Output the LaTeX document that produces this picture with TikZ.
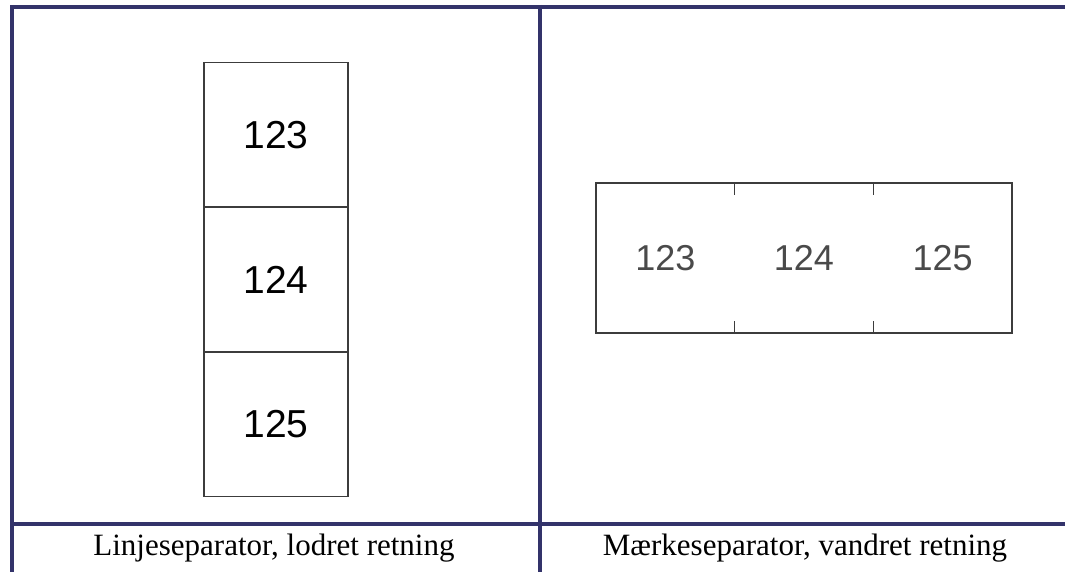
\documentclass[tikz,border=0pt]{standalone}
\usepackage{fontspec}
\setmainfont{Liberation Serif}
\newfontfamily\numfont{Liberation Sans}
\usetikzlibrary{positioning}
\definecolor{frm}{HTML}{33336A}
\definecolor{edg}{HTML}{3C3C3C}
\definecolor{dig}{HTML}{4A4A4A}
\tikzset{
  rule/.style={draw=frm, line width=4pt},
  vcell/.style={draw=edg, line width=1.5pt, minimum width=144pt, minimum height=144.5pt, inner sep=0pt, outer sep=0pt, font=\numfont\fontsize{39}{39}\selectfont},
  hcell/.style={minimum width=138.67pt, minimum height=150pt, inner sep=0pt, outer sep=0pt, text=dig, font=\numfont\fontsize{36}{36}\selectfont},
  tickmark/.style={draw=edg, line width=1.5pt},
  captxt/.style={anchor=base, font=\fontsize{31}{31}\selectfont}}
\begin{document}
\begin{tikzpicture}[x=1pt, y=-1pt, node distance=0pt]
\useasboundingbox (0,0) rectangle (1065,572);
% table rules
\draw[rule] (10,7) -- (1065,7);
\draw[rule] (10,523.5) -- (1065,523.5);
\draw[rule] (12,5) -- (12,572);
\draw[rule] (540,5) -- (540,572);
% vertical strip
\node[vcell] (v1) at (276,135) {123};
\node[vcell, below=of v1] (v2) {124};
\node[vcell, below=of v2] (v3) {125};
% horizontal strip
\node[hcell] (h1) at (665.3,258) {123};
\node[hcell, right=of h1] (h2) {124};
\node[hcell, right=of h2] (h3) {125};
\draw[edg, line width=1.5pt] (h1.north west) rectangle (h3.south east);
\draw[tickmark] (h1.north east) -- ++(0,12);
\draw[tickmark] (h2.north east) -- ++(0,12);
\draw[tickmark] (h1.south east) -- ++(0,-12);
\draw[tickmark] (h2.south east) -- ++(0,-12);
% captions
\node[captxt] (c1) at (274,555) {Linjeseparator, lodret retning};
\node[captxt] (c2) at (805,555) {Mærkeseparator, vandret retning};
\end{tikzpicture}
\end{document}
